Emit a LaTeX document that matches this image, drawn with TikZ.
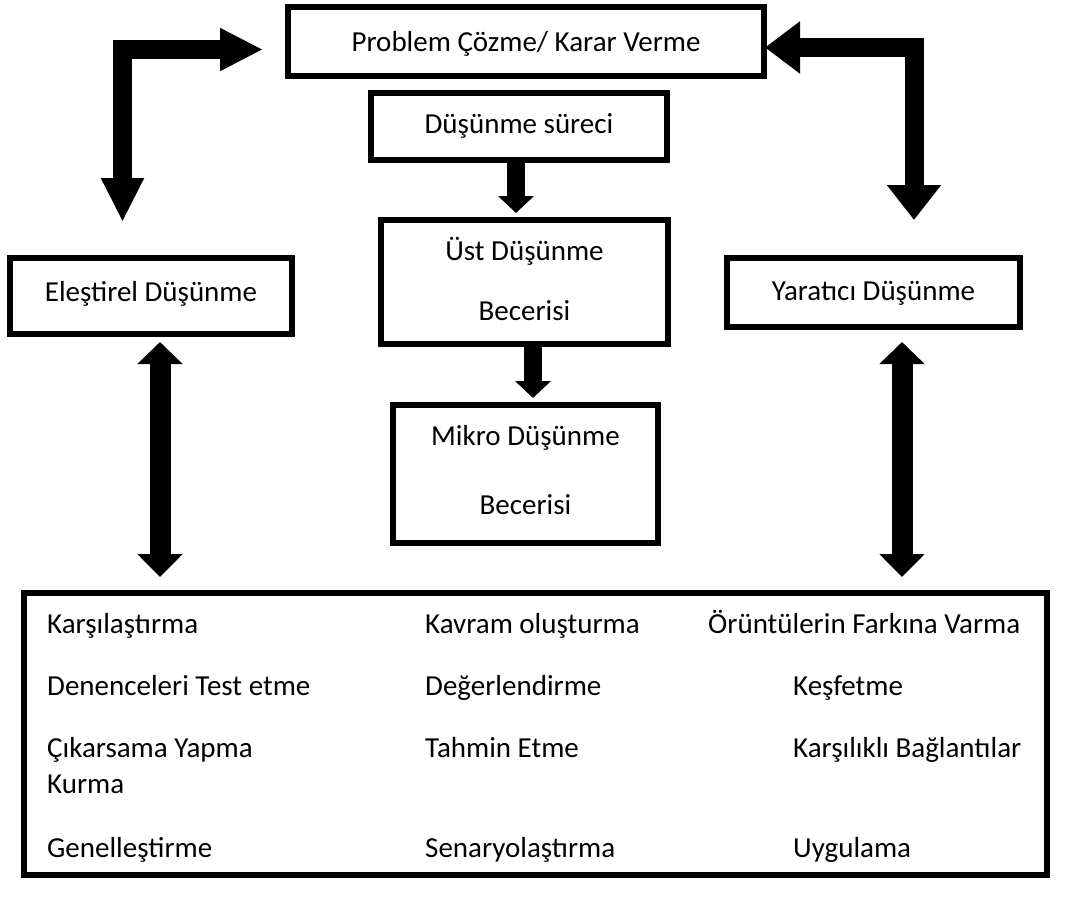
\documentclass[tikz,border=0pt]{standalone}
\usepackage{fontspec}
\setmainfont{Carlito}
\usetikzlibrary{arrows.meta}

\begin{document}
\begin{tikzpicture}[x=1pt,y=-1pt,font=\fontsize{29pt}{35pt}\selectfont,
  box/.style={draw,line width=6pt,inner sep=0pt,outer sep=0pt},
  item/.style={anchor=base west,inner sep=0pt},
  fat/.style={line width=18pt,-{Triangle[length=17pt,width=35pt]}},
  fatboth/.style={line width=21pt,{Triangle[length=22pt,width=44pt]}-{Triangle[length=23pt,width=44pt]}},
  elbow/.style={line width=19pt,line join=miter}]
  \useasboundingbox (0,0) rectangle (1073,905);
  % boxes
  \node[box,minimum width=476pt,minimum height=69pt,text height=20pt,text depth=0pt] (prob) at (526,41.5) {Problem Çözme/ Karar Verme};
  \node[box,minimum width=296pt,minimum height=67pt,text height=20pt,text depth=7pt] (proc) at (519,126.5) {Düşünme süreci};
  \node[box,minimum width=287pt,minimum height=124pt,align=center,text height=80pt,text depth=4pt] (ust) at (524.5,282) {Üst Düşünme\\[25pt]Becerisi};
  \node[box,minimum width=265pt,minimum height=138pt,align=center,text height=90pt,text depth=10pt] (mikro) at (525.5,474) {Mikro Düşünme\\[34pt]Becerisi};
  \node[box,minimum width=282pt,minimum height=76pt,text height=20pt,text depth=9pt] (crit) at (151,296) {Eleştirel Düşünme};
  \node[box,minimum width=293pt,minimum height=69pt,text height=20pt,text depth=5pt] (crea) at (873.5,292.5) {Yaratıcı Düşünme};
  \node[box,minimum width=1023pt,minimum height=282pt] (list) at (535.5,734) {};
  % list
  \node[item] (k1) at (47,633) {Karşılaştırma}; \node[item] (k2) at (425,633) {Kavram oluşturma};
  \node[item] (k3) at (708,633) {Örüntülerin Farkına Varma};
  \node[item] (d1) at (47,695) {Denenceleri Test etme}; \node[item] (d2) at (425,695) {Değerlendirme};
  \node[item] (d3) at (793,695) {Keşfetme};
  \node[item] (c1) at (47,757) {Çıkarsama Yapma}; \node[item] (c1b) at (47,793) {Kurma};
  \node[item] (c2) at (425,757) {Tahmin Etme}; \node[item] (c3) at (793,757) {Karşılıklı Bağlantılar};
  \node[item] (g1) at (47,857) {Genelleştirme}; \node[item] (g2) at (425,857) {Senaryolaştırma};
  \node[item] (g3) at (793,857) {Uygulama};
  % arrows
  \draw[fat,shorten >=7pt] ([xshift=-3pt]proc.south) -- ([xshift=-3pt]proc.south |- ust.north);
  \draw[fat,shorten >=7pt] ([xshift=8.5pt]ust.south) -- ([xshift=8.5pt]ust.south |- mikro.north);
  \draw[fatboth,shorten >=16pt] ([xshift=9pt,yshift=-8pt]crit.south) -- ([xshift=9pt]crit.south |- list.north);
  \draw[fatboth,shorten >=16pt] ([xshift=28.5pt,yshift=-15pt]crea.south) -- ([xshift=28.5pt]crea.south |- list.north);
  \draw[elbow,{Triangle[length=43pt,width=40pt]}-{Triangle[length=44pt,width=40pt]}]
    ([xshift=-25pt,yshift=-8pt]prob.west) -| ([xshift=-28.5pt,yshift=36pt]crit.north);
  \draw[elbow,{Triangle[length=35pt,width=50pt]}-{Triangle[length=35pt,width=52pt]}]
    ([xshift=1pt,yshift=-6pt]prob.east) -| ([xshift=40.5pt,yshift=38pt]crea.north);
\end{tikzpicture}
\end{document}
